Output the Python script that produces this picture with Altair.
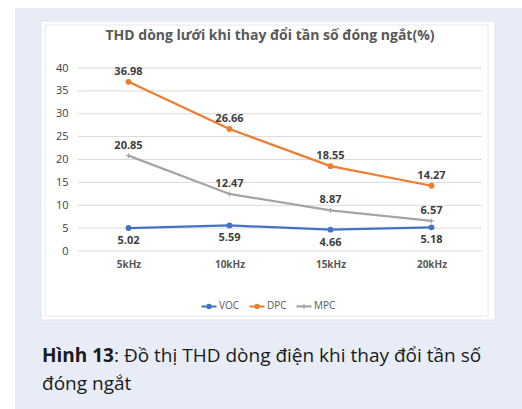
import altair as alt
import pandas as pd

# Switching frequencies and THD (%) of the grid current for each controller
freqs = ["5kHz", "10kHz", "15kHz", "20kHz"]
series = ["VOC", "DPC", "MPC"]
voc = [5.02, 5.59, 4.66, 5.18]
dpc = [36.98, 26.66, 18.55, 14.27]
mpc = [20.85, 12.47, 8.87, 6.57]
colors = ["#4472C4", "#ED7D31", "#A5A5A5"]
y_ticks = [0, 5, 10, 15, 20, 25, 30, 35, 40]

chart_title = "THD dòng lưới khi thay đổi tần số đóng ngắt(%)"
caption_bold = "Hình 13"
caption_rest = ": Đồ thị THD dòng điện khi thay đổi tần số"
caption_line2 = "đóng ngắt"

rows = []
for name, vals in zip(series, [voc, dpc, mpc]):
    for f, v in zip(freqs, vals):
        rows.append({"freq": f, "series": name, "thd": v})
df = pd.DataFrame(rows)
grid_df = pd.DataFrame({"thd": y_ticks})

W, H = 404, 183
FONT = "Open Sans"
one = alt.Data(values=[{}])

x_enc = alt.X(
    "freq:N", sort=freqs, scale=alt.Scale(padding=0.5),
    axis=alt.Axis(title=None, labelAngle=0, domain=False, ticks=False, grid=False,
                  labelFont=FONT, labelFontSize=10, labelFontWeight="bold",
                  labelColor="#595959", labelPadding=8, zindex=1),
)
y_scale = alt.Scale(domain=[0, 40], nice=False)
y_enc = alt.Y(
    "thd:Q", scale=y_scale,
    axis=alt.Axis(title=None, values=y_ticks, domain=False, ticks=False, grid=False,
                  labelFont=FONT, labelFontSize=11, labelColor="#404040",
                  labelPadding=10, zindex=1),
)
stroke_scale = alt.Scale(domain=series, range=colors)

# legend source: short line segment with the series marker (its own marks sit under the panel)
line_dot = "M-1,0H-0.3M0.3,0H1M-0.22,0A0.22,0.22 0 1,0 0.22,0A0.22,0.22 0 1,0 -0.22,0"
line_plus = "M-1,0H1M0,-0.25V0.25"
legend_def = alt.Legend(
    orient="none", legendX=122, legendY=229, direction="horizontal", title=None,
    labelFont=FONT, labelFontSize=10, labelColor="#595959", symbolSize=225,
    symbolStrokeWidth=2, labelOffset=1, columnPadding=5)
legend_layer = alt.Chart(df).mark_point(filled=False, size=1, opacity=1).encode(
    x=x_enc, y=y_enc,
    color=alt.Color("series:N", scale=alt.Scale(domain=series, range=colors), legend=legend_def),
    shape=alt.Shape("series:N", scale=alt.Scale(domain=series, range=[line_dot, line_dot, line_plus]),
                    legend=legend_def),
)

# page background, chart panel and its inner frame
bg = alt.Chart(one).mark_rect(color="#e7ecf6").encode(
    x=alt.value(-63), x2=alt.value(444), y=alt.value(-60), y2=alt.value(341))
panel = alt.Chart(one).mark_rect(fill="white", stroke="#e0e4ea", strokeWidth=1).encode(
    x=alt.value(-37), x2=alt.value(417), y=alt.value(-47), y2=alt.value(252))
frame = alt.Chart(one).mark_rect(fillOpacity=0, stroke="#e6e6e6", strokeWidth=1).encode(
    x=alt.value(-33), x2=alt.value(410), y=alt.value(-43), y2=alt.value(248))

# horizontal gridlines at the y tick values
grid = alt.Chart(grid_df).mark_rule(color="#d9d9d9", strokeWidth=1).encode(
    y=y_enc, x=alt.value(0), x2=alt.value(W))

base = alt.Chart(df).encode(x=x_enc, y=y_enc)

lines = base.mark_line().encode(
    stroke=alt.Stroke("series:N", scale=stroke_scale, legend=None),
    strokeWidth=alt.StrokeWidth("series:N", scale=alt.Scale(domain=series, range=[2.2, 2.2, 1.5]), legend=None),
)
dots = base.transform_filter(alt.datum.series != "MPC").mark_point(
    shape="circle", size=34, filled=True, opacity=1).encode(
    fill=alt.Fill("series:N", scale=stroke_scale, legend=None))
plus = base.transform_filter(alt.datum.series == "MPC").mark_point(
    shape="M-1,0H1M0,-1V1", size=22, strokeWidth=1.2, filled=False, opacity=1, stroke="#A5A5A5")

label_style = dict(font=FONT, fontSize=11, fontWeight="bold", color="#404040")
labels_above = base.transform_filter(alt.datum.series != "VOC").mark_text(dy=-10, **label_style).encode(
    text=alt.Text("thd:Q", format=".2f"))
labels_below = base.transform_filter(alt.datum.series == "VOC").mark_text(dy=13, **label_style).encode(
    text=alt.Text("thd:Q", format=".2f"))

title = alt.Chart(one).mark_text(font=FONT, fontSize=14, fontWeight="bold", color="#595959",
                                 align="center", baseline="alphabetic").encode(
    x=alt.value(192), y=alt.value(-28), text=alt.value(chart_title))

cap_style = dict(font=FONT, fontSize=19, color="#1a1a1a", align="left", baseline="alphabetic")
cap1 = alt.Chart(one).mark_text(fontWeight="bold", **cap_style).encode(
    x=alt.value(-36), y=alt.value(294), text=alt.value(caption_bold))
cap2 = alt.Chart(one).mark_text(**cap_style).encode(
    x=alt.value(36), y=alt.value(294), text=alt.value(caption_rest))
cap3 = alt.Chart(one).mark_text(**cap_style).encode(
    x=alt.value(-36), y=alt.value(322), text=alt.value(caption_line2))

chart = alt.layer(
    legend_layer, bg, panel, frame, grid, lines, dots, plus, labels_above, labels_below,
    title, cap1, cap2, cap3,
).properties(
    width=W, height=H,
    autosize=alt.AutoSizeParams(type="none"),
    padding={"left": 78, "top": 68, "right": 40, "bottom": 158},
    background="white",
).configure_view(strokeOpacity=0)

chart.save("out.html", embed_options={"renderer": "svg", "actions": False})
